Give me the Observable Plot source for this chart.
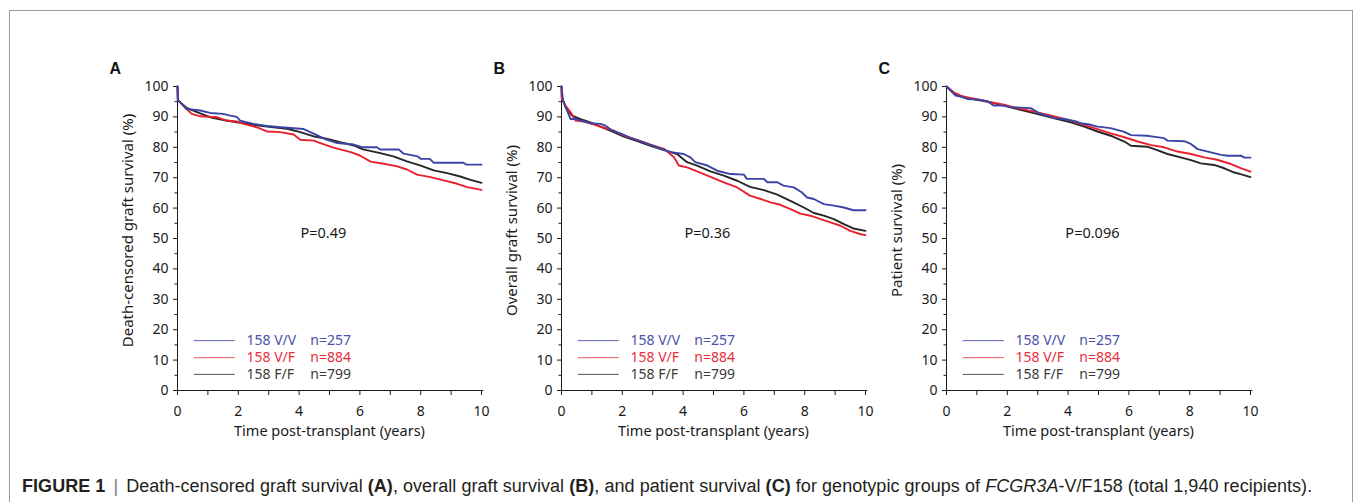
<!DOCTYPE html>
<html><head><meta charset="utf-8">
<script src="https://cdn.jsdelivr.net/npm/d3@7"></script>
<script src="https://cdn.jsdelivr.net/npm/@observablehq/plot@0.6"></script>
<style>
body{margin:0;background:#fff;width:1355px;height:502px;overflow:hidden;position:relative;font-family:"Noto Sans",sans-serif}
#frame{position:absolute;left:9px;top:10px;width:1344px;height:600px;border:1px solid #9a9a9a;border-bottom:none;box-sizing:border-box}
.panel{position:absolute;top:40px}
#caption{position:absolute;left:22px;top:476px;font-family:"Liberation Sans",Arial,sans-serif;font-size:18px;letter-spacing:0.05px;color:#231f20;white-space:nowrap}
#caption .bar{color:#777;padding:0 8px 0 8px}
</style></head>
<body>
<div id="frame"></div>
<div id="panels"></div>
<div id="caption"></div>
<script>
// ---------- data ----------
const groups = ["158 V/V", "158 V/F", "158 F/F"];
const counts = ["n=257", "n=884", "n=799"];
const panelLetters = ["A", "B", "C"];
const pValues = ["P=0.49", "P=0.36", "P=0.096"];
const yLabels = ["Death-censored graft survival (%)", "Overall graft survival (%)", "Patient survival (%)"];
const xLabel = "Time post-transplant (years)";
const xTicks = [0, 2, 4, 6, 8, 10];
const xMinorTicks = [1, 3, 5, 7, 9];
const yTicks = [0, 10, 20, 30, 40, 50, 60, 70, 80, 90, 100];
const yMinorTicks = [5, 15, 25, 35, 45, 55, 65, 75, 85, 95];

// [years, survival %]
const A_VV = [[0,100],[0.02,95.5],[0.3,92.6],[0.75,92.1],[1.07,91.3],[1.5,91],[1.7,90.5],[1.95,90],[2.06,88.8],[2.5,87.7],[2.94,87],[3.4,86.6],[4.15,86],[4.26,85.5],[4.6,83.9],[4.9,82.5],[5.25,81.4],[5.8,80.9],[6.1,80],[6.56,80],[6.67,79.3],[7.28,79.3],[7.44,77.9],[7.9,77],[8.0,76.2],[8.3,76.2],[8.43,74.9],[9.4,74.9],[9.5,74.3],[10,74.3]];
const A_VF = [[0,100],[0.01,95.6],[0.3,92.6],[0.47,91],[0.75,90.2],[1.3,89.9],[1.6,88.8],[1.95,88.5],[2.17,87.7],[2.6,86.6],[2.94,85.2],[3.38,85],[3.82,84.2],[4.04,82.5],[4.48,82.2],[4.7,81.4],[5.1,80],[5.7,78.4],[6.0,77.3],[6.35,75.3],[6.78,74.6],[7.2,73.8],[7.55,72.7],[7.88,71],[8.32,70.2],[8.76,69.1],[9.2,68],[9.53,66.9],[10,66]];
const A_FF = [[0,100],[0.01,95.5],[0.3,93],[0.64,91.6],[1.07,89.9],[1.6,88.8],[2.17,87.9],[2.6,87.2],[3.16,86.6],[3.6,86.1],[4.04,85],[4.48,83.6],[4.9,82.8],[5.35,81.7],[5.8,80.6],[6.1,79.3],[6.67,78.1],[7.1,77],[7.55,75.4],[8.0,74],[8.43,72.4],[8.87,71.5],[9.3,70.4],[9.64,69.3],[10,68.3]];

const B_VV = [[0,100],[0.05,95.4],[0.16,92.6],[0.3,89.3],[0.49,89.3],[0.63,88.8],[0.95,87.9],[1.28,87.7],[1.45,87.1],[1.67,85.5],[1.94,84.6],[2.27,83.1],[2.7,81.6],[3.15,80],[3.59,78.4],[4.02,77.8],[4.24,76.7],[4.4,75.1],[4.8,74],[5.12,72.3],[5.56,71.2],[6.0,71],[6.1,69.6],[6.66,69.6],[6.77,68.5],[7.1,68.5],[7.3,67.4],[7.64,66.8],[7.9,65.2],[8.08,63.5],[8.3,63],[8.63,61.3],[8.96,60.8],[9.29,60.2],[9.6,59.3],[10,59.3]];
const B_VF = [[0,100],[0.01,95.9],[0.13,93.7],[0.3,91.5],[0.46,88.8],[0.73,88.5],[0.95,87.9],[1.28,86.8],[1.72,85.5],[2.05,83.8],[2.49,82.4],[2.93,80.9],[3.37,79.5],[3.7,76.7],[3.86,74],[4.13,73.4],[4.46,72.1],[4.9,70.3],[5.34,68.5],[5.78,66.8],[6.2,64.1],[6.55,63],[6.88,61.9],[7.2,61.1],[7.53,59.7],[7.86,58.2],[8.19,57.5],[8.52,56.4],[8.85,55.3],[9.18,54.2],[9.5,52.5],[9.84,51.4],[10,51.1]];
const B_FF = [[0,100],[0.01,96.5],[0.16,92.6],[0.35,90.4],[0.63,89.3],[0.95,88.2],[1.28,86.8],[1.72,85],[2.05,83.5],[2.49,82],[2.93,80.5],[3.37,79.1],[3.8,77.8],[4.13,75.1],[4.46,74],[4.9,72.1],[5.34,70.7],[5.78,69],[6.2,67],[6.66,65.9],[7.1,64.4],[7.53,62.4],[7.97,60.2],[8.3,58.4],[8.63,57.5],[8.96,56.4],[9.29,54.7],[9.6,53.3],[10,52.5]];

const C_VV = [[0,100],[0.13,98.7],[0.3,97],[0.46,96.7],[0.68,95.9],[1.12,95.6],[1.34,95.2],[1.56,93.7],[1.89,93.7],[2.1,93.2],[2.77,92.9],[3.0,91.5],[3.2,90.7],[3.54,89.6],[3.87,89.3],[4.3,88.4],[4.42,87.9],[4.75,87.4],[4.97,86.8],[5.4,86.3],[5.85,85.1],[6.07,84],[6.6,83.8],[6.8,83.5],[7.16,83],[7.27,82.2],[7.82,82],[8.04,81.1],[8.26,79.4],[8.6,78.6],[9.03,77.5],[9.25,77.2],[9.7,77.2],[9.8,76.6],[10,76.6]];
const C_VF = [[0,100],[0.24,98.1],[0.46,97],[0.79,96.2],[1.12,95.6],[1.45,94.8],[1.89,94],[2.33,92.9],[2.77,92],[3.2,91],[3.65,89.9],[4.09,88.8],[4.53,87.4],[4.97,86],[5.4,84.6],[5.85,83.3],[6.29,81.9],[6.73,80.7],[7.16,80],[7.6,78.6],[8.04,77.8],[8.48,76.7],[8.9,75.9],[9.36,74.5],[9.7,73.1],[10,72]];
const C_FF = [[0,100],[0.24,97.8],[0.57,96.5],[1.0,95.6],[1.45,94.8],[1.89,93.7],[2.33,92.6],[2.77,91.5],[3.2,90.4],[3.65,89.3],[4.09,88.2],[4.53,86.8],[4.97,85.2],[5.4,83.8],[5.85,81.9],[6.07,80.5],[6.6,80.2],[6.93,79.1],[7.27,77.8],[7.7,76.7],[8.04,75.8],[8.37,74.7],[8.8,74.2],[9.14,73.1],[9.47,71.7],[9.7,71.1],[10,70.2]];

const panelSeries = [[A_VV, A_VF, A_FF], [B_VV, B_VF, B_FF], [C_VV, C_VF, C_FF]];

// ---------- style / layout ----------
const lineColors = ["#3b44a6", "#e8202e", "#262626"];
const legendTextColors = ["#4a50aa", "#e8303c", "#3a3a3a"];
const legendLineColors = ["#5a62b8", "#ef5a60", "#555555"];
const panelLefts = [107, 491, 876];
const legendYs = [16.4, 10.8, 5.3];
const drawOrder = [2, 1, 0];

panelLetters.forEach((letter, i) => {
  const series = panelSeries[i];
  const legend = groups.map((g, k) => ({g, n: counts[k], y: legendYs[k], tc: legendTextColors[k], lc: legendLineColors[k]}));
  const chart = Plot.plot({
    width: 385,
    height: 410,
    marginLeft: 70,
    marginRight: 11,
    marginTop: 46,
    marginBottom: 60,
    x: {domain: [0, 10]},
    y: {domain: [0, 100]},
    style: {fontFamily: "Noto Sans, sans-serif", fontSize: "14px", color: "#1a1a1a", background: "#fff", overflow: "visible"},
    marks: [
      Plot.axisY(yTicks, {tickSize: 4, tickPadding: 5, label: null, fontSize: 14}),
      Plot.axisY(yMinorTicks, {tickSize: 2.5, tickFormat: () => "", label: null}),
      Plot.axisX(xTicks, {tickSize: 5, tickPadding: 11, label: null, fontSize: 14}),
      Plot.axisX(xMinorTicks, {tickSize: 5, tickFormat: () => "", label: null}),
      Plot.ruleY([0], {x1: 0, x2: 10.08, stroke: "#1a1a1a"}),
      Plot.ruleX([0], {y1: 0, y2: 100, stroke: "#1a1a1a"}),
      ...drawOrder.map(k => Plot.line(series[k], {x: d => d[0], y: d => d[1], stroke: lineColors[k], strokeWidth: 1.9})),
      Plot.ruleY(legend, {x1: 0.55, x2: 1.9, y: "y", stroke: "lc", strokeWidth: 1}),
      Plot.text(legend, {x: 2.27, y: "y", text: "g", fill: "tc", textAnchor: "start", fontSize: 14}),
      Plot.text(legend, {x: 4.37, y: "y", text: "n", fill: "tc", textAnchor: "start", fontSize: 14}),
      Plot.text([pValues[i]], {x: 4.8, y: 51.6, text: d => d, fontSize: 14.5, fill: "#1a1a1a"}),
      Plot.text([yLabels[i]], {frameAnchor: "left", text: d => d, textAnchor: "middle", rotate: -90, dx: -49, dy: -8, fontSize: 15, fill: "#1a1a1a"}),
      Plot.text([xLabel], {frameAnchor: "bottom", text: d => d, dy: 45, fontSize: 14.5, fill: "#1a1a1a"}),
      Plot.text([letter], {frameAnchor: "top-left", text: d => d, dx: -68, dy: -24, fontSize: 16, fontWeight: "bold", fontFamily: "Liberation Sans, Arial, sans-serif", fill: "#111"})
    ]
  });
  const wrap = document.createElement("div");
  wrap.className = "panel";
  wrap.style.left = panelLefts[i] + "px";
  wrap.appendChild(chart);
  document.getElementById("panels").appendChild(wrap);
});

document.getElementById("caption").innerHTML =
  '<b>FIGURE 1</b><span class="bar">|</span>Death-censored graft survival <b>(A)</b>, overall graft survival <b>(B)</b>, and patient survival <b>(C)</b> for genotypic groups of <i>FCGR3A</i>-V/F158 (total 1,940 recipients).';
</script>
</body></html>
